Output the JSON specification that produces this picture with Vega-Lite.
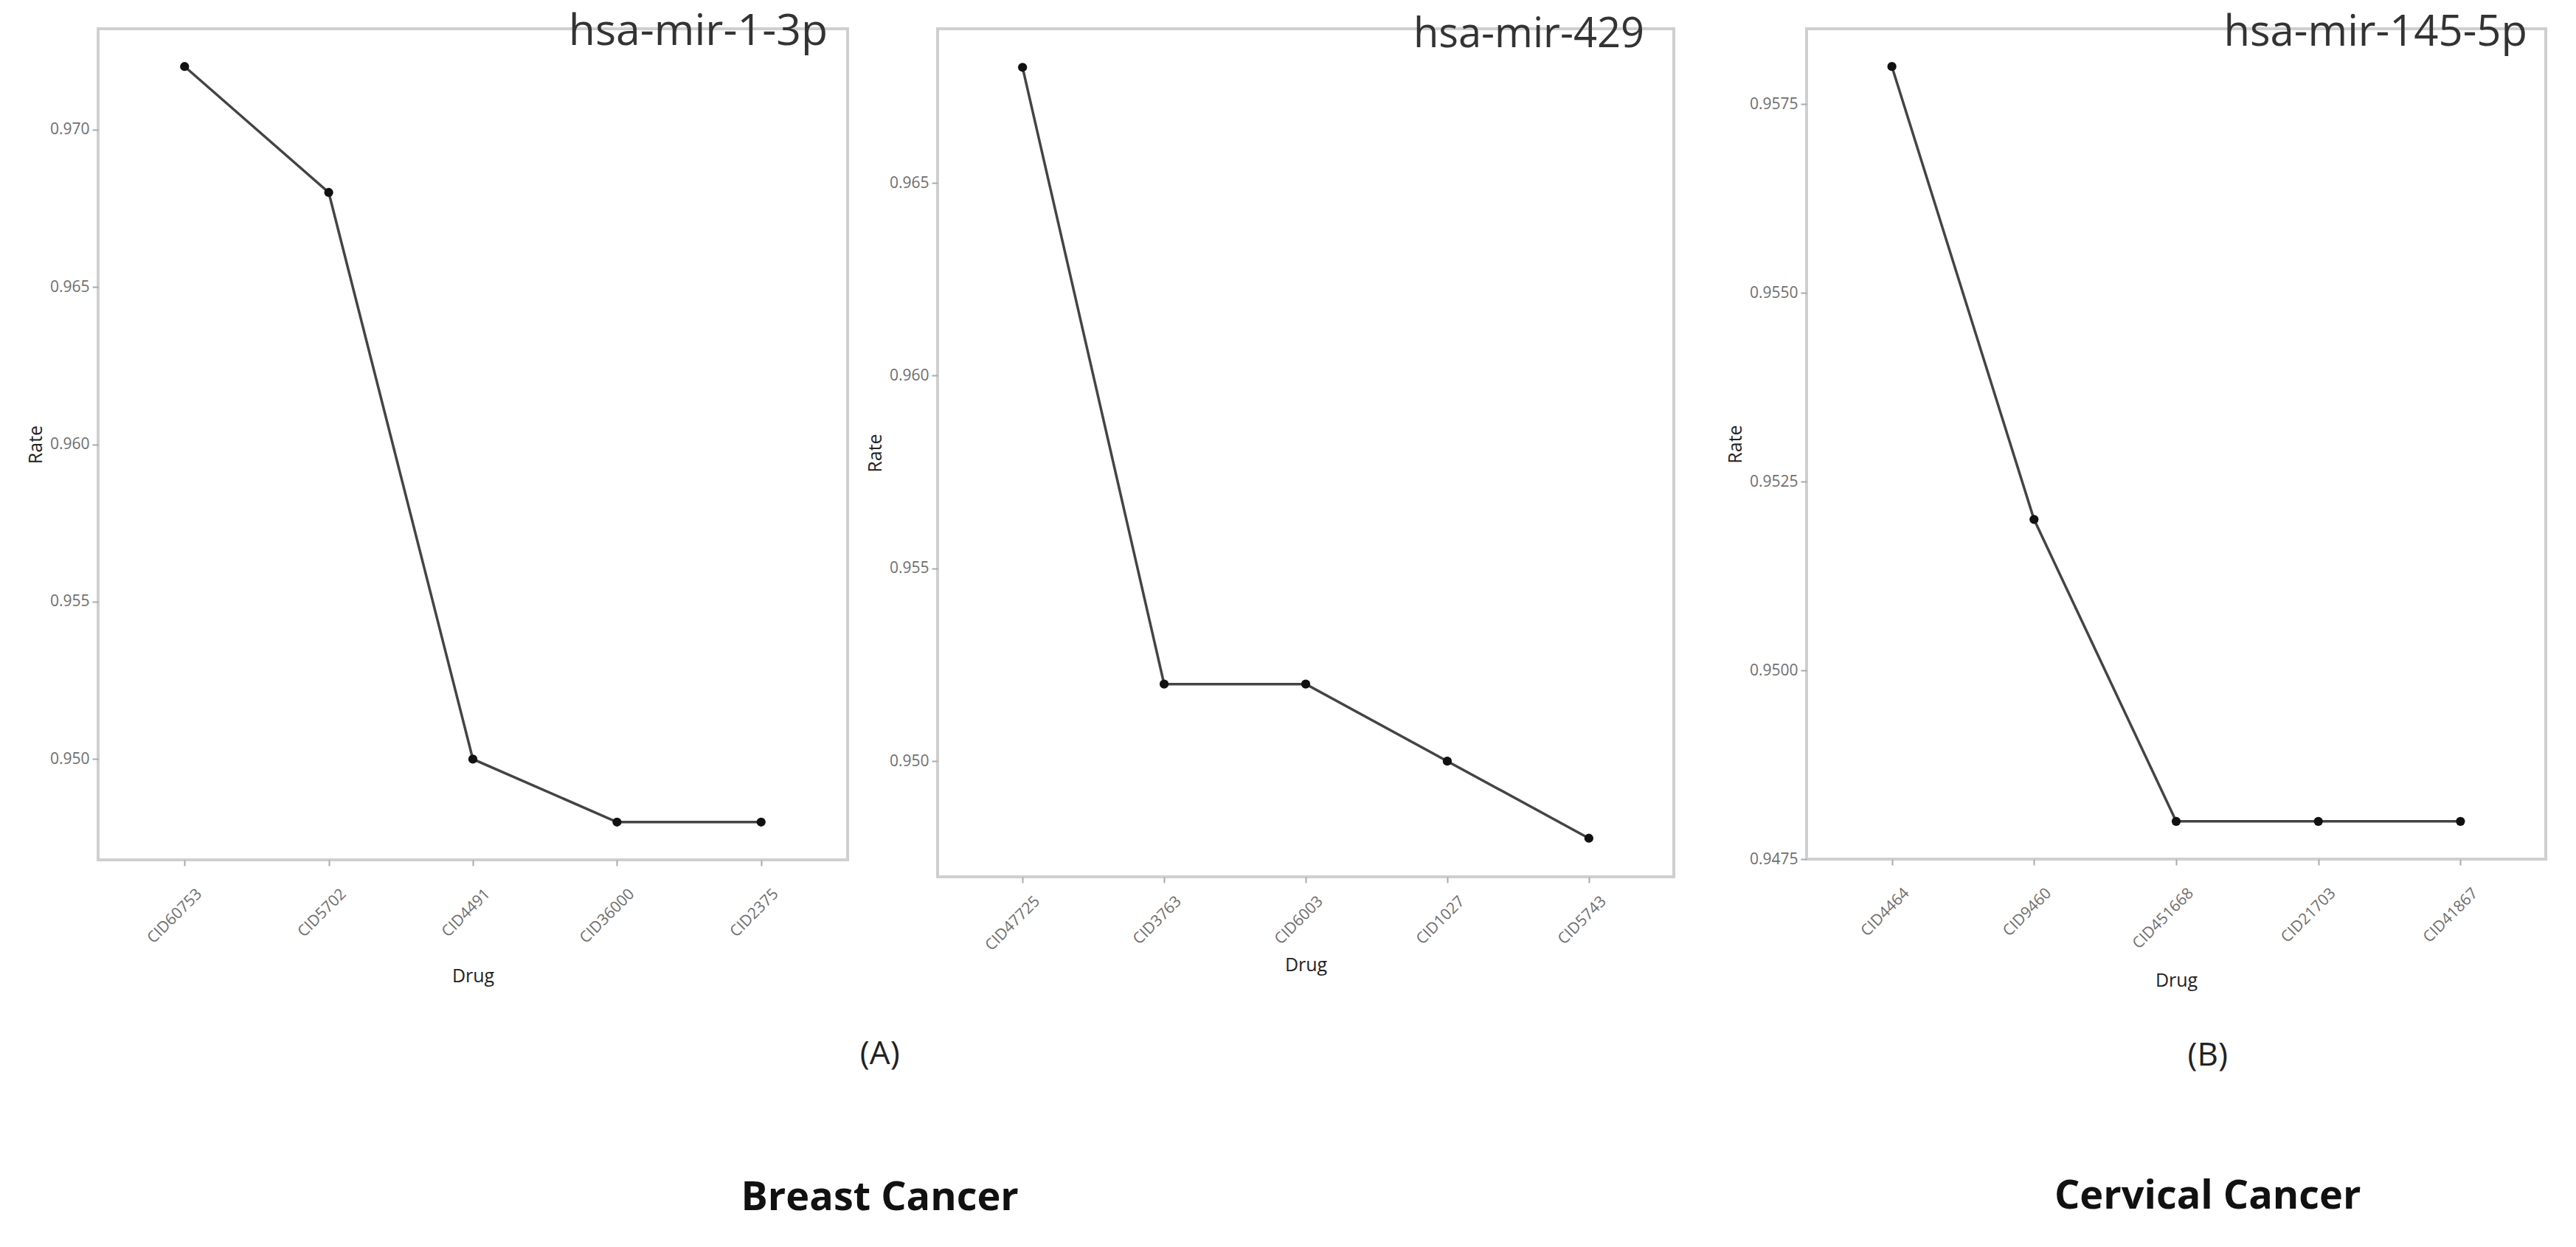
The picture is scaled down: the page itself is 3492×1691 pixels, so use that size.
{
  "$schema": "https://vega.github.io/schema/vega-lite/v6.json",
  "background": "white",
  "padding": {"left": 34, "top": 12, "right": 0, "bottom": 0},
  "datasets": {
    "rates": [
      {"panel": "mir1", "order": 1, "drug": "CID60753", "rate": 0.972},
      {"panel": "mir1", "order": 2, "drug": "CID5702", "rate": 0.968},
      {"panel": "mir1", "order": 3, "drug": "CID4491", "rate": 0.950},
      {"panel": "mir1", "order": 4, "drug": "CID36000", "rate": 0.948},
      {"panel": "mir1", "order": 5, "drug": "CID2375", "rate": 0.948},
      {"panel": "mir429", "order": 1, "drug": "CID47725", "rate": 0.968},
      {"panel": "mir429", "order": 2, "drug": "CID3763", "rate": 0.952},
      {"panel": "mir429", "order": 3, "drug": "CID6003", "rate": 0.952},
      {"panel": "mir429", "order": 4, "drug": "CID1027", "rate": 0.950},
      {"panel": "mir429", "order": 5, "drug": "CID5743", "rate": 0.948},
      {"panel": "mir145", "order": 1, "drug": "CID4464", "rate": 0.958},
      {"panel": "mir145", "order": 2, "drug": "CID9460", "rate": 0.952},
      {"panel": "mir145", "order": 3, "drug": "CID451668", "rate": 0.948},
      {"panel": "mir145", "order": 4, "drug": "CID21703", "rate": 0.948},
      {"panel": "mir145", "order": 5, "drug": "CID41867", "rate": 0.948}
    ]
  },
  "config": {
    "view": {"stroke": "#cfcfcf", "strokeWidth": 4},
    "axis": {
      "labelFont": "Open Sans", "labelFontSize": 21, "labelColor": "#6e6e6e",
      "titleFont": "Open Sans", "titleFontSize": 25, "titleFontWeight": "normal", "titleColor": "#222222",
      "domain": false, "grid": false, "tickColor": "#aaaaaa", "tickWidth": 2, "tickSize": 8,
      "labelPadding": 4, "titlePadding": 6
    },
    "axisX": {"labelOffset": 12},
    "title": {"font": "Open Sans"}
  },
  "spacing": 67,
  "hconcat": [
    {
      "title": {"text": "(A)", "subtitle": "Breast Cancer", "orient": "bottom", "anchor": "middle", "offset": 69, "dx": 40,
        "fontSize": 44, "fontWeight": "normal", "color": "#222222",
        "subtitleFont": "Open Sans", "subtitleFontSize": 54, "subtitleFontWeight": "bold", "subtitleColor": "#111111", "subtitlePadding": 146},
      "spacing": 21,
      "hconcat": [
        {
          "width": 1016, "height": 1127,
          "data": {"name": "rates"},
          "transform": [{"filter": "datum.panel === 'mir1'"}],
          "title": {"text": "hsa-mir-1-3p", "orient": "top", "anchor": "end", "frame": "group", "offset": -22, "dx": -27, "dy": 59,
            "fontSize": 59, "fontWeight": "normal", "color": "#333333", "baseline": "alphabetic"},
          "encoding": {
            "x": {"field": "drug", "type": "nominal", "sort": null, "scale": {"type": "point", "padding": 0.6},
              "axis": {"title": "Drug", "labelAngle": -45, "labelPadding": 27, "titlePadding": 29}},
            "y": {"field": "rate", "type": "quantitative", "scale": {"domain": [0.9468, 0.9732], "nice": false, "zero": false},
              "axis": {"title": "Rate", "values": [0.95, 0.955, 0.96, 0.965, 0.97], "format": ".3f"}},
            "order": {"field": "order"}
          },
          "layer": [
            {"mark": {"type": "line", "color": "#444444", "strokeWidth": 3.5}},
            {"mark": {"type": "point", "filled": true, "color": "#111111", "size": 150, "opacity": 1}}
          ]
        },
        {
          "width": 998, "height": 1150,
          "data": {"name": "rates"},
          "transform": [{"filter": "datum.panel === 'mir429'"}],
          "title": {"text": "hsa-mir-429", "orient": "top", "anchor": "end", "frame": "group", "offset": -22, "dx": -40, "dy": 59,
            "fontSize": 56, "fontWeight": "normal", "color": "#333333", "baseline": "alphabetic"},
          "encoding": {
            "x": {"field": "drug", "type": "nominal", "sort": null, "scale": {"type": "point", "padding": 0.6},
              "axis": {"title": "Drug", "labelAngle": -45, "labelPadding": 14, "titlePadding": 4}},
            "y": {"field": "rate", "type": "quantitative", "scale": {"domain": [0.947, 0.969], "nice": false, "zero": false},
              "axis": {"title": "Rate", "values": [0.95, 0.955, 0.96, 0.965], "format": ".3f"}},
            "order": {"field": "order"}
          },
          "layer": [
            {"mark": {"type": "line", "color": "#444444", "strokeWidth": 3.5}},
            {"mark": {"type": "point", "filled": true, "color": "#111111", "size": 150, "opacity": 1}}
          ]
        }
      ]
    },
    {
      "title": {"text": "(B)", "subtitle": "Cervical Cancer", "orient": "bottom", "anchor": "middle", "offset": 66, "dx": 97,
        "fontSize": 44, "fontWeight": "normal", "color": "#222222",
        "subtitleFont": "Open Sans", "subtitleFontSize": 54, "subtitleFontWeight": "bold", "subtitleColor": "#111111", "subtitlePadding": 142},
      "hconcat": [
        {
          "width": 1002, "height": 1126,
          "data": {"name": "rates"},
          "transform": [{"filter": "datum.panel === 'mir145'"}],
          "title": {"text": "hsa-mir-145-5p", "orient": "top", "anchor": "end", "frame": "group", "offset": -22, "dx": -25, "dy": 59,
            "fontSize": 58, "fontWeight": "normal", "color": "#333333", "baseline": "alphabetic"},
          "encoding": {
            "x": {"field": "drug", "type": "nominal", "sort": null, "scale": {"type": "point", "padding": 0.6},
              "axis": {"title": "Drug", "labelAngle": -45, "labelPadding": 27, "titlePadding": 27}},
            "y": {"field": "rate", "type": "quantitative", "scale": {"domain": [0.9475, 0.9585], "nice": false, "zero": false},
              "axis": {"title": "Rate", "values": [0.9475, 0.95, 0.9525, 0.955, 0.9575], "format": ".4f"}},
            "order": {"field": "order"}
          },
          "layer": [
            {"mark": {"type": "line", "color": "#444444", "strokeWidth": 3.5}},
            {"mark": {"type": "point", "filled": true, "color": "#111111", "size": 150, "opacity": 1}}
          ]
        }
      ]
    }
  ]
}
